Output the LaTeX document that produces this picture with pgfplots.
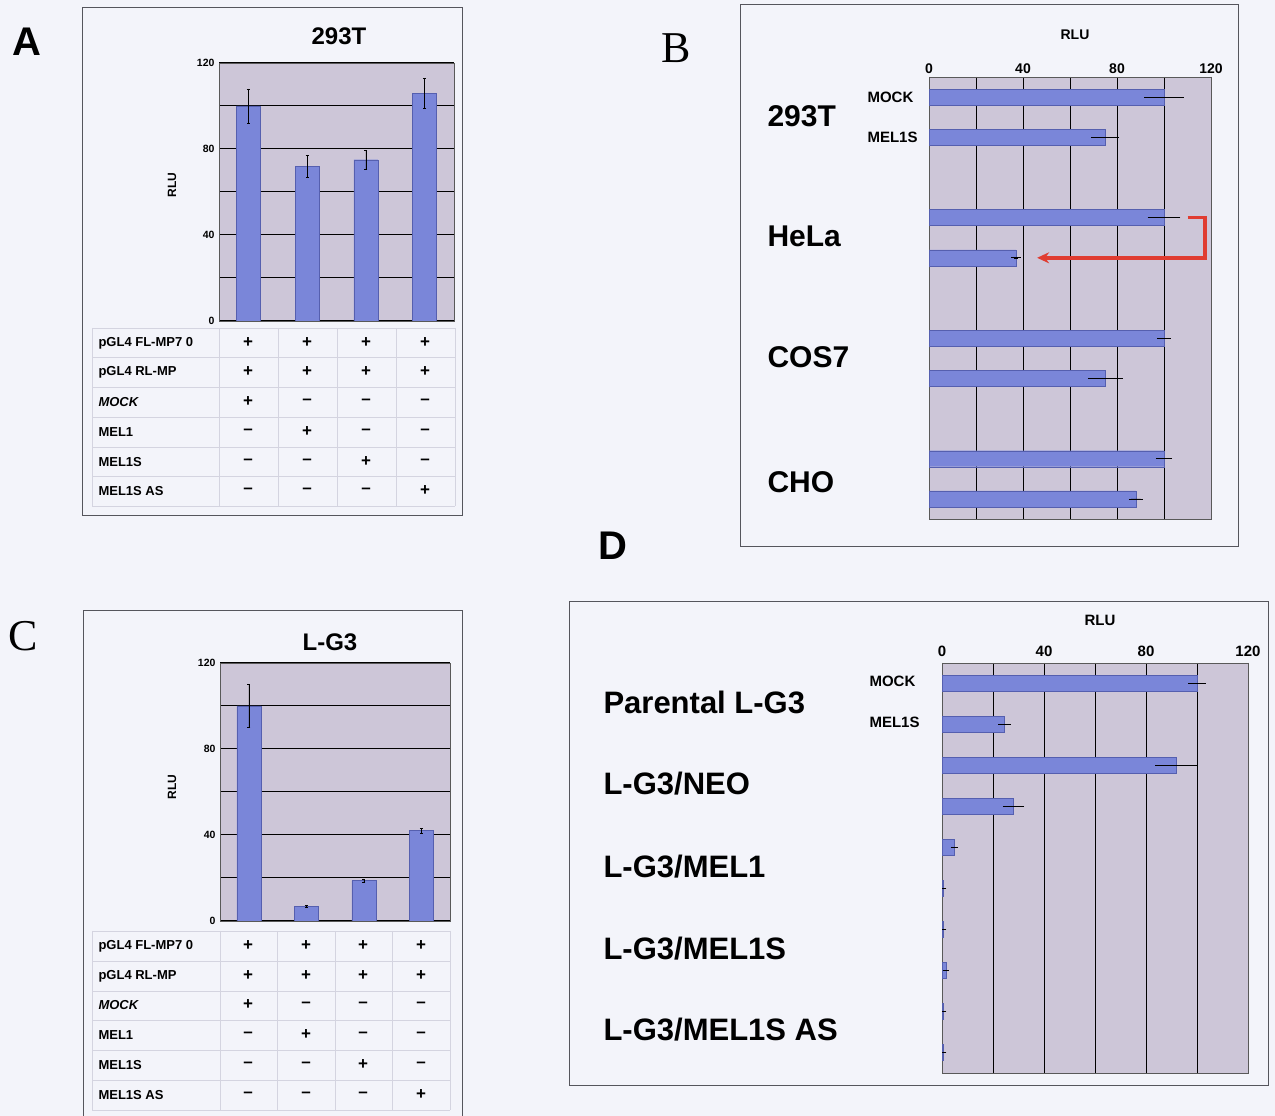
\documentclass[border=0pt]{standalone}
\usepackage{pgfplots}
\pgfplotsset{compat=1.18}
\usepackage{fontspec}
\setmainfont{Liberation Sans}
\newfontfamily\seriffont{Liberation Serif}
\usetikzlibrary{arrows.meta}
\definecolor{bg}{RGB}{243,244,250}
\definecolor{plotbg}{RGB}{205,198,216}
\definecolor{barc}{RGB}{122,134,217}
\definecolor{bared}{RGB}{85,95,175}
\definecolor{boxc}{RGB}{85,85,92}
\definecolor{tabl}{RGB}{212,212,224}
\definecolor{arrowred}{RGB}{224,60,49}
\newcommand{\fs}[1]{\fontsize{#1}{#1}\selectfont}
\pgfplotsset{
  panel/.style={scale only axis, anchor=south west,
    axis background/.style={fill=plotbg},
    axis line style={draw=gray!70!black, line width=0.6pt},
    major tick length=0pt,
    grid style={black, line width=1pt}},
  vbars/.style={ybar, xmin=0.5, xmax=4.5, ymin=0, ymax=120, xtick=\empty,
    ytick={0,20,...,120}, yticklabels={0,,40,,80,,120}, ymajorgrids,
    yticklabel style={font=\fs{10.5}\bfseries, xshift=-1pt}, bar width=24pt},
  hbars/.style={xbar, xmin=0, xmax=120, y dir=reverse, ytick=\empty,
    xtick={0,20,...,120}, xticklabels={0,,40,,80,,120}, xticklabel pos=upper,
    xmajorgrids, bar width=16pt},
  vplot/.style={fill=barc, draw=bared, line width=0.4pt,
    error bars/.cd, y dir=both, y explicit,
    error bar style={black, line width=0.5pt},
    error mark options={rotate=90, mark size=1.5pt, black}},
  hplot/.style={fill=barc, draw=bared, line width=0.4pt,
    error bars/.cd, x dir=both, x explicit,
    error bar style={black, line width=0.6pt},
    error mark options={mark size=2.2pt, black, line width=0.8pt}},
}
\begin{document}
\begin{tikzpicture}[x=1pt,y=1pt]
\useasboundingbox (0,0) rectangle (1275,1116);
\fill[bg] (0,0) rectangle (1275,1116);

% ---------- boxes ----------
\draw[boxc, line width=1pt] (82,1108) rectangle (462,600);
\draw[boxc, line width=1pt] (740,1111) rectangle (1238,569);
\draw[boxc, line width=1pt] (83,0) -- (83,505) -- (462,505) -- (462,0);
\draw[boxc, line width=1pt] (569,514) rectangle (1268,30);

% ---------- panel letters ----------
\node[font=\fs{40}\bfseries] at (27,1074) {A};
\node[font=\seriffont\fs{44}] at (676,1068) {B};
\node[font=\seriffont\fs{44}] at (23,480) {C};
\node[font=\fs{40}\bfseries] at (613,570) {D};

% ---------- Panel A ----------
\node[font=\fs{24}\bfseries] at (339,1080) {293T};
\node[font=\fs{12}\bfseries, rotate=90] at (172,931) {RLU};
\begin{axis}[panel, vbars, at={(219pt,795pt)}, width=235pt, height=258pt]
\addplot[vplot] coordinates {(1,100) +- (0,8) (2,72) +- (0,5) (3,75) +- (0,4.5) (4,106) +- (0,7)};
\end{axis}
% table A
\foreach \yy in {788,759,729,699,669,640,610} \draw[tabl, line width=0.8pt] (92,\yy) -- (455,\yy);
\foreach \xx in {92,219,278,337,396,455} \draw[tabl, line width=0.8pt] (\xx,788) -- (\xx,610);
\begin{scope}[every node/.style={font=\fs{13}\bfseries, anchor=west}]
\node at (95,773) {pGL4 FL-MP7 0};
\node at (95,744) {pGL4 RL-MP};
\node at (95,714) {\itshape MOCK};
\node at (95,684) {MEL1};
\node at (95,654) {MEL1S};
\node at (95,625) {MEL1S AS};
\end{scope}
\begin{scope}[every node/.style={font=\fs{17}\bfseries}]
\foreach \xx/\a/\b/\c/\d in {248/+/--/--/--, 307/--/+/--/--, 366/--/--/+/--, 425/--/--/--/+}{
  \node at (\xx,773) {+}; \node at (\xx,744) {+};
  \node at (\xx,714) {\a}; \node at (\xx,684) {\b};
  \node at (\xx,654) {\c}; \node at (\xx,625) {\d};}
\end{scope}

% ---------- Panel C ----------
\node[font=\fs{24}\bfseries] at (330,474) {L-G3};
\node[font=\fs{12}\bfseries, rotate=90] at (172,329) {RLU};
\begin{axis}[panel, vbars, at={(220pt,195pt)}, width=230pt, height=258pt]
\addplot[vplot] coordinates {(1,100) +- (0,10) (2,6.8) +- (0,0.4) (3,18.8) +- (0,0.8) (4,42) +- (0,1)};
\end{axis}
\foreach \yy in {185,155,125,96,66,36,6} \draw[tabl, line width=0.8pt] (92,\yy) -- (450,\yy);
\foreach \xx in {92,220,277,335,392,450} \draw[tabl, line width=0.8pt] (\xx,185) -- (\xx,6);
\begin{scope}[every node/.style={font=\fs{13}\bfseries, anchor=west}]
\node at (95,170) {pGL4 FL-MP7 0};
\node at (95,140) {pGL4 RL-MP};
\node at (95,111) {\itshape MOCK};
\node at (95,81) {MEL1};
\node at (95,51) {MEL1S};
\node at (95,21) {MEL1S AS};
\end{scope}
\begin{scope}[every node/.style={font=\fs{17}\bfseries}]
\foreach \xx/\a/\b/\c/\d in {248/+/--/--/--, 306/--/+/--/--, 363/--/--/+/--, 421/--/--/--/+}{
  \node at (\xx,170) {+}; \node at (\xx,140) {+};
  \node at (\xx,111) {\a}; \node at (\xx,81) {\b};
  \node at (\xx,51) {\c}; \node at (\xx,21) {\d};}
\end{scope}

% ---------- Panel B ----------
\node[font=\fs{14}\bfseries] at (1075,1081) {RLU};
\begin{axis}[panel, hbars, at={(929pt,597pt)}, width=282pt, height=442pt,
  ymin=0, ymax=11, xticklabel style={font=\fs{14}\bfseries}]
\addplot[hplot] coordinates {(100,0.5) +- (7.5,0) (75,1.5) +- (5,0)
  (100,3.5) +- (6,0) (37,4.5) +- (1,0)
  (100,6.5) +- (2,0) (75,7.5) +- (6.5,0)
  (100,9.5) +- (2.5,0) (88,10.5) +- (2,0)};
\draw[arrowred, line width=3.5pt, -{Stealth[length=12pt,width=11pt]}]
  (axis cs:110,3.5) -- (axis cs:117.5,3.5) -- (axis cs:117.5,4.5) -- (axis cs:46,4.5);
\end{axis}
\begin{scope}[every node/.style={font=\fs{30}\bfseries, anchor=west}]
\node at (764,1000) {293T};
\node at (764,880) {HeLa};
\node at (764,759) {COS7};
\node at (764,634) {CHO};
\end{scope}
\node[font=\fs{15}\bfseries, anchor=west] at (864,1019) {MOCK};
\node[font=\fs{15}\bfseries, anchor=west] at (864,979) {MEL1S};

% ---------- Panel D ----------
\node[font=\fs{15}\bfseries] at (1100,496) {RLU};
\begin{axis}[panel, hbars, at={(942pt,43pt)}, width=306pt, height=410pt,
  ymin=0, ymax=10, xticklabel style={font=\fs{15}\bfseries, yshift=3pt}]
\addplot[hplot] coordinates {(100,0.5) +- (2.5,0) (24.5,1.5) +- (1.5,0)
  (92,2.5) +- (7.5,0) (28,3.5) +- (3.3,0)
  (4.8,4.5) +- (0.5,0) (0.6,5.5) +- (0.2,0)
  (0.6,6.5) +- (0.2,0) (1.5,7.5) +- (0.3,0)
  (0.6,8.5) +- (0.2,0) (0.6,9.5) +- (0.2,0)};
\end{axis}
\begin{scope}[every node/.style={font=\fs{31}\bfseries, anchor=west}]
\node at (600,414) {Parental L-G3};
\node at (600,332) {L-G3/NEO};
\node at (600,249) {L-G3/MEL1};
\node at (600,167) {L-G3/MEL1S};
\node at (600,86) {L-G3/MEL1S AS};
\end{scope}
\node[font=\fs{15}\bfseries, anchor=west] at (866,435) {MOCK};
\node[font=\fs{15}\bfseries, anchor=west] at (866,394) {MEL1S};
\end{tikzpicture}
\end{document}
